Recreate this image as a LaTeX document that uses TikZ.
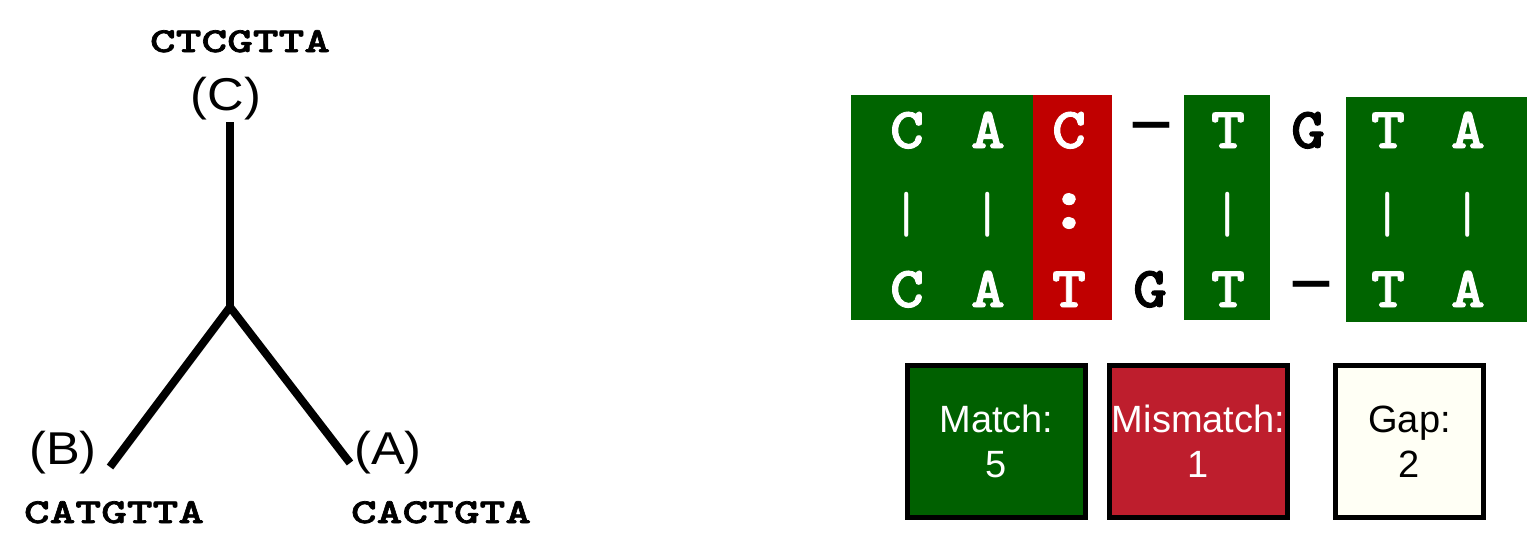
\documentclass[tikz,border=0pt]{standalone}
\usepackage{fontspec}
\setmainfont{Liberation Sans}
\newfontfamily\seqfont[FakeStretch=1.4, FakeBold=2]{lmmonolt10-bold.otf}
\newfontfamily\alnfont[FakeStretch=1.12, FakeBold=1.5]{lmmonolt10-bold.otf}
\newfontfamily\barfont{lmmono10-regular.otf}
\newfontfamily\dashfont{Liberation Mono}
\newfontfamily\tagfont[FakeStretch=1.1]{Liberation Sans}
\usepackage{xcolor}
\definecolor{matchgreen}{RGB}{0,100,0}
\definecolor{mismatchred}{RGB}{192,0,0}
\definecolor{legendgreen}{RGB}{0,96,0}
\definecolor{legendred}{RGB}{190,30,45}
\definecolor{legendgap}{RGB}{255,255,245}
\usepackage{tikz}

\begin{document}
\begin{tikzpicture}[x=0.5pt, y=-0.5pt,
	ramo/.style={line width=4pt, line join=miter},
	seq/.style={font=\seqfont\fontsize{17.5}{20}\selectfont, anchor=base, inner sep=0pt},
	foglia/.style={font=\tagfont\fontsize{23}{26}\selectfont, anchor=base, inner sep=0pt},
	residue/.style={font=\alnfont\fontsize{29}{30}\selectfont, text=white, anchor=base, inner sep=0pt},
	gapchar/.style={residue, text=black},
	gapdash/.style={font=\dashfont\bfseries\fontsize{30}{30}\selectfont, inner sep=0pt},
	bar/.style={font=\barfont\fontsize{29}{30}\selectfont, text=white, inner sep=0pt},
	colon/.style={font=\alnfont\fontsize{40}{40}\selectfont, text=white, inner sep=0pt},
	legend/.style={draw=black, line width=2.5pt, minimum width=89pt, minimum height=76pt,
		inner sep=1pt, align=center, font=\fontsize{19}{22.5}\selectfont}]

	\useasboundingbox (0,0) rectangle (1533,558);

	% albero
	\coordinate (root) at (230,307);
	\coordinate (endC) at (230,122);
	\coordinate (endB) at (110,467);
	\coordinate (endA) at (350,463);
	\draw[ramo] (endC) -- (root);
	\draw[ramo] (endB) -- (root) -- (endA);

	% etichette delle foglie
	\node[seq] (seqC) at (240,52) {CTCGTTA};
	\node[foglia] (tagC) at (226,110) {(C)};
	\node[foglia] (tagB) at (63,464) {(B)};
	\node[foglia] (tagA) at (388,464) {(A)};
	\node[seq] (seqB) at (114,523) {CATGTTA};
	\node[seq] (seqA) at (441,523) {CACTGTA};

	% blocchi dell'allineamento
	\fill[matchgreen] (851,95) rectangle (1033,320);
	\fill[mismatchred] (1033,95) rectangle (1112,320);
	\fill[matchgreen] (1184,95) rectangle (1270,320);
	\fill[matchgreen] (1346,97) rectangle (1527,322);

	% riga superiore
	\node[residue] (q1) at (907,148) {C};
	\node[residue] (q2) at (988,148) {A};
	\node[residue] (q3) at (1069,148) {C};
	\node[gapdash] (q4) at (1151,131) {—};
	\node[residue] (q5) at (1228,148) {T};
	\node[gapchar] (q6) at (1308,148) {G};
	\node[residue] (q7) at (1388,148) {T};
	\node[residue] (q8) at (1468,148) {A};

	% riga centrale
	\node[bar] (m1) at (907,215) {|};
	\node[bar] (m2) at (988,215) {|};
	\node[colon] (m3) at (1069,211) {:};
	\node[bar] (m5) at (1228,215) {|};
	\node[bar] (m7) at (1388,215) {|};
	\node[bar] (m8) at (1468,215) {|};

	% riga inferiore
	\node[residue] (s1) at (907,307) {C};
	\node[residue] (s2) at (988,307) {A};
	\node[residue] (s3) at (1069,307) {T};
	\node[gapchar] (s4) at (1150,307) {G};
	\node[residue] (s5) at (1228,307) {T};
	\node[gapdash] (s6) at (1311,290) {—};
	\node[residue] (s7) at (1388,307) {T};
	\node[residue] (s8) at (1468,307) {A};

	% legenda
	\node[legend, fill=legendgreen, text=white] (match) at (996.5,441.5) {Match:\\5};
	\node[legend, fill=legendred, text=white] (mismatch) at (1198.5,441.5) {Mismatch:\\1};
	\node[legend, fill=legendgap, minimum width=74pt] (gap) at (1409.5,441.5) {Gap:\\2};
\end{tikzpicture}
\end{document}
